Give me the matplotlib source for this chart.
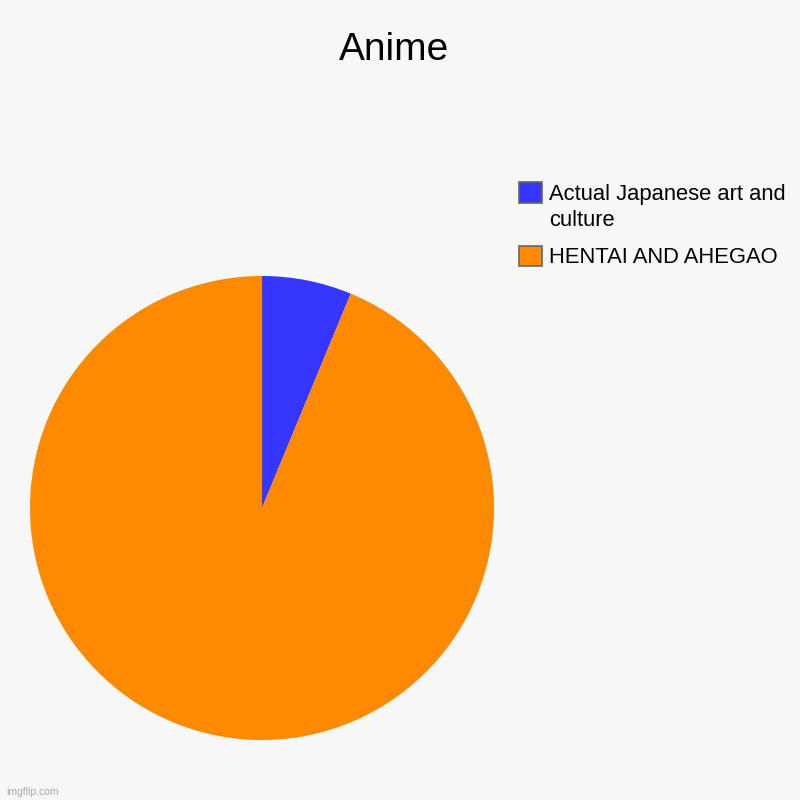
import matplotlib.pyplot as plt
import matplotlib.patches as mpatches
from matplotlib.legend_handler import HandlerPatch

# slices of the pie
labels = ['Actual Japanese art and\nculture', 'HENTAI AND AHEGAO']
values = [1, 15]
colors = ['#3636ff', '#ff8a00']

plt.rcParams['font.family'] = ['Liberation Sans', 'DejaVu Sans']

fig = plt.figure(figsize=(8, 8), dpi=100)
fig.patch.set_facecolor('#f7f7f7')

# pie area, centre at about (262, 508) px, radius 232 px
ax = fig.add_axes([30 / 800, 60 / 800, 464 / 800, 464 / 800])
ax.set_facecolor('#f7f7f7')
ax.pie(values, colors=colors, startangle=90, counterclock=False,
       wedgeprops={'linewidth': 0})
ax.set_xlim(-1, 1)
ax.set_ylim(-1, 1)
ax.set_aspect('equal')

fig.text(394 / 800, 1 - 50 / 800, 'Anime', ha='center', va='center',
         fontsize=28, color='#000000')


# legend box for a two-line label sits next to the first line
def top_line_patch(legend, orig_handle, xdescent, ydescent, width, height, fontsize):
    shift = 0.7 * fontsize
    return mpatches.Rectangle((-xdescent, -ydescent + shift), width, height)


handles = [mpatches.Patch(facecolor=c, edgecolor='#666666', linewidth=1.2)
           for c in colors]
leg = fig.legend(handles, labels, loc='upper left',
                 bbox_to_anchor=(519 / 800, 1 - 184 / 800),
                 frameon=False, fontsize=15.8, borderpad=0, borderaxespad=0,
                 handlelength=1.05, handleheight=1.05, handletextpad=0.33,
                 labelspacing=0.68,
                 handler_map={handles[0]: HandlerPatch(patch_func=top_line_patch)})
leg.get_texts()[0].set_linespacing(1.3)

fig.text(6 / 800, 1 - 792 / 800, 'imgflip.com', fontsize=7.5,
         color='#aaaaaa', va='center')

plt.savefig('out.png', dpi=100, facecolor=fig.get_facecolor())
